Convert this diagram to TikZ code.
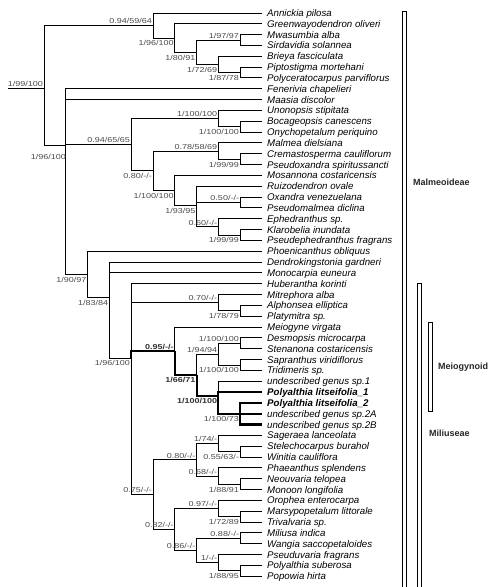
\documentclass[tikz,border=0pt]{standalone}
\usepackage{fontspec}
\setmainfont{Liberation Sans}
\newfontfamily\suppfont[FakeStretch=1.25]{Liberation Sans}
\definecolor{suppgray}{HTML}{4A4A4A}
\tikzset{
  taxon/.style={anchor=west,inner xsep=5pt,inner ysep=0pt,text height=7.5pt,text depth=0.5pt,font=\fontsize{9.7}{10}\selectfont\itshape},
  supp/.style={inner sep=0pt,text=suppgray,font=\suppfont\fontsize{7.2}{8}\selectfont},
  up/.style={supp,anchor=south east,xshift=-1pt,yshift=1.5pt},
  dn/.style={supp,anchor=north east,xshift=-1pt,yshift=-2.5pt},
  br/.style={line width=1pt},
  hl/.style={line width=2.1pt},
  bar/.style={line width=0.9pt},
  clade/.style={anchor=west,inner sep=0pt,font=\fontsize{9}{10}\selectfont\bfseries,text=black!85},
}
\begin{document}
\begin{tikzpicture}[x=1pt,y=-1pt]
\useasboundingbox (0,0) rectangle (500,587);
% taxa
\foreach \t [count=\i] in {Annickia pilosa, Greenwayodendron oliveri, Mwasumbia alba, Sirdavidia solannea,
  Brieya fasciculata, Piptostigma mortehani, Polyceratocarpus parviflorus, Fenerivia chapelieri,
  Maasia discolor, Unonopsis stipitata, Bocageopsis canescens, Onychopetalum periquino,
  Malmea dielsiana, Cremastosperma cauliflorum, Pseudoxandra spiritussancti, Mosannona costaricensis,
  Ruizodendron ovale, Oxandra venezuelana, Pseudomalmea diclina, Ephedranthus sp.,
  Klarobelia inundata, Pseudephedranthus fragrans, Phoenicanthus obliquus, Dendrokingstonia gardneri,
  Monocarpia euneura, Huberantha korinti, Mitrephora alba, Alphonsea elliptica,
  Platymitra sp., Meiogyne virgata, Desmopsis microcarpa, Stenanona costaricensis,
  Sapranthus viridiflorus, Tridimeris sp., undescribed genus sp.1, {\bfseries Polyalthia litseifolia\_1},
  {\bfseries Polyalthia litseifolia\_2}, undescribed genus sp.2A, undescribed genus sp.2B, Sageraea lanceolata,
  Stelechocarpus burahol, Winitia cauliflora, Phaeanthus splendens, Neouvaria telopea,
  Monoon longifolia, Orophea enterocarpa, Marsypopetalum littorale, Trivalvaria sp.,
  Miliusa indica, Wangia saccopetaloides, Pseuduvaria fragrans, Polyalthia suberosa, Popowia hirta}
  \node[taxon] (t\i) at (262,{13+(\i-1)*10.83}) {\t};
% internal nodes: name/level/y
\foreach \n/\k/\y in {a1/5/25.5, a2/6/38.0, a3/7/52.3, a5/9/40.1, a4/8/64.5, a6/9/72.6,
  B/1/145, C/4/144.6, c1/8/118.6, c1b/9/126.7, C2/5/170.7, c2a/8/151.1, c2a2/9/159.2,
  c2b/6/190.3, c2c/7/205.2, c2d/9/202.5, c2e/8/226.9, c2f/9/235.0,
  D/2/274.5, D2/3/297.7, D3/4/358.0, dm/8/302.7, dm2/9/310.9,
  m1/6/351.0, m2/7/375.0, m3/8/354.2, m3a/9/343.3, m3b/9/365.0, m4/8/395.7, m5/9/413.8,
  r/5/494.7, r1/7/459.8, r1a/8/443.5, r1a2/9/451.7, r1b/8/476.0, r1b2/9/484.2,
  r2/6/529.5, r2a/8/508.5, r2a2/9/516.7, r2b/7/550.5, r2c/9/538.3, r2d/8/562.7, r2d2/9/570.8}
  \coordinate (\n) at ({44+21.8*\k},\y);
\coordinate (R0) at (8,88);
\coordinate (R) at (44,88);
\coordinate (Bl) at (67,152);
% branches
\draw[br] (R0) -- (R);
\foreach \p/\c in {R/a1, R/B, a1/t1, a1/a2, a2/t2, a2/a3, a3/a5, a3/a4, a5/t3, a5/t4, a4/t5, a4/a6, a6/t6, a6/t7,
  B/t8, B/t9, B/C, B/D, C/c1, C/C2, c1/t10, c1/c1b, c1b/t11, c1b/t12, C2/c2a, C2/c2b,
  c2a/t13, c2a/c2a2, c2a2/t14, c2a2/t15, c2b/t16, c2b/c2c, c2c/t17, c2c/c2d, c2c/c2e,
  c2d/t18, c2d/t19, c2e/t20, c2e/c2f, c2f/t21, c2f/t22,
  D/t23, D/D2, D2/t24, D2/t25, D2/D3, D3/t26, D3/dm, D3/r, dm/t27, dm/dm2, dm2/t28, dm2/t29,
  m1/t30, m2/m3, m3/m3a, m3/m3b, m3a/t31, m3a/t32, m3b/t33, m3b/t34, m4/t35,
  r/r1, r/r2, r1/r1a, r1/r1b, r1a/t40, r1a/r1a2, r1a2/t41, r1a2/t42, r1b/t43, r1b/r1b2, r1b2/t44, r1b2/t45,
  r2/r2a, r2/r2b, r2a/t46, r2a/r2a2, r2a2/t47, r2a2/t48, r2b/r2c, r2b/r2d, r2c/t49, r2c/t50,
  r2d/t51, r2d/r2d2, r2d2/t52, r2d2/t53}
  \draw[br] (\p) |- (\c);
\foreach \p/\c in {D3/m1, m1/m2, m2/m4, m4/t36, m4/m5, m5/t37, m5/t38, m5/t39}
  \draw[hl] (\p) |- (\c);
% support values
\foreach \n/\v in {R/{1/99/100}, a1/{0.94/59/64}, a5/{1/97/97}, C/{0.94/65/65}, c1/{1/100/100},
  c2a/{0.78/58/69}, c2d/{0.50/-/-}, c2e/{0.60/-/-}, dm/{0.70/-/-}, m3/{1/94/94}, m3a/{1/100/100},
  r/{0.75/-/-}, r1/{0.80/-/-}, r1a/{1/74/-}, r1b/{0.68/-/-}, r2/{0.82/-/-}, r2a/{0.97/-/-},
  r2b/{0.86/-/-}, r2c/{0.88/-/-}, r2d/{1/-/-}}
  \node[up] (s-\n) at (\n) {\v};
\foreach \n/\v in {a2/{1/96/100}, a3/{1/80/91}, a4/{1/72/69}, a6/{1/87/78}, Bl/{1/96/100},
  c1b/{1/100/100}, C2/{0.80/-/-}, c2a2/{1/99/99}, c2b/{1/100/100}, c2c/{1/93/95}, c2f/{1/99/99},
  D/{1/90/97}, D2/{1/83/84}, D3/{1/96/100}, dm2/{1/78/79}, m3b/{1/100/100}, m5/{1/100/73},
  r1a2/{0.55/63/-}, r1b2/{1/88/91}, r2a2/{1/72/89}, r2d2/{1/88/95}}
  \node[dn] (s-\n) at (\n) {\v};
\node[up,font=\suppfont\fontsize{7.2}{8}\selectfont\bfseries,text=black!80] (s-m1) at (m1) {0.95/-/-};
\node[dn,font=\suppfont\fontsize{7.2}{8}\selectfont\bfseries,text=black!80] (s-m2) at (m2) {1/66/71};
\node[dn,font=\suppfont\fontsize{7.2}{8}\selectfont\bfseries,text=black!80] (s-m4) at (m4) {1/100/100};
% clades
\draw[bar] (402.5,11.5) rectangle (406.5,595);
\draw[bar] (417.5,283) rectangle (421.5,595);
\draw[bar] (428.5,322) rectangle (432.5,411);
\node[clade] (malm) at (413,182) {Malmeoideae};
\node[clade] (meio) at (438,367) {Meiogynoid};
\node[clade] (mili) at (429,433) {Miliuseae};
\end{tikzpicture}
\end{document}
